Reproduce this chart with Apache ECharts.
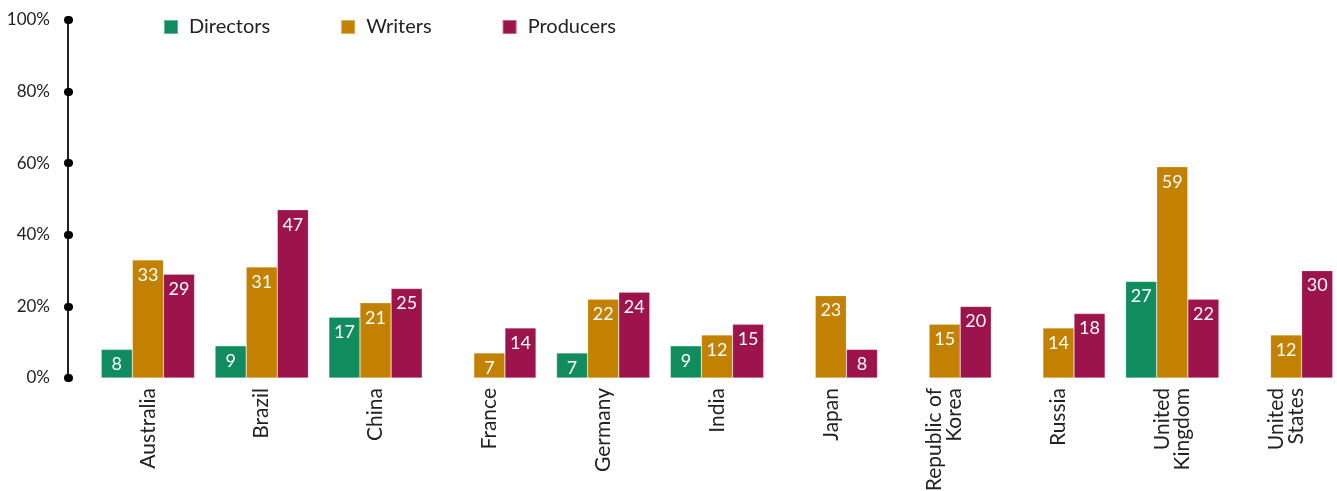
<!DOCTYPE html>
<html>
<head>
<meta charset="utf-8">
<script src="https://cdn.jsdelivr.net/npm/echarts@6/dist/echarts.min.js"></script>
<style>
html, body { margin: 0; padding: 0; background: #fff; }
#main { width: 1337px; height: 491px; }
</style>
</head>
<body>
<div id="main"></div>
<script>
// categories and values (percent)
var countries = ['Australia', 'Brazil', 'China', 'France', 'Germany', 'India', 'Japan',
    'Republic of\nKorea', 'Russia', 'United\nKingdom', 'United\nStates'];
var directors = [8, 9, 17, null, 7, 9, null, null, null, 27, null];
var writers = [33, 31, 21, 7, 22, 12, 23, 15, 14, 59, 12];
var producers = [29, 47, 25, 14, 24, 15, 8, 20, 18, 22, 30];
var yTicks = [0, 20, 40, 60, 80, 100];

var font = 'Lato';

function barSeries(name, data, color) {
    return {
        name: name,
        type: 'bar',
        data: data,
        barGap: 0,
        barCategoryGap: '18%',
        itemStyle: { color: color, borderColor: 'rgba(255,255,255,0.35)', borderWidth: 0.6 },
        label: {
            show: true,
            position: 'insideTop',
            distance: 6,
            color: '#fff',
            fontFamily: font,
            fontSize: 18
        }
    };
}

var chart = echarts.init(document.getElementById('main'));
var option = {
    animation: false,
    legend: {
        left: 158,
        top: 12,
        itemWidth: 14,
        itemHeight: 14,
        itemGap: 70,
        icon: 'rect',
        textStyle: { fontFamily: font, fontSize: 20, color: '#222', padding: [0, 0, 0, 6] },
        data: ['Directors', 'Writers', 'Producers']
    },
    grid: { left: 91, right: -6, top: 20, bottom: 113, containLabel: false, outerBoundsMode: 'none' },
    xAxis: {
        type: 'category',
        data: countries,
        axisLine: { show: false },
        axisTick: { show: false },
        axisLabel: {
            rotate: 90,
            margin: 10,
            interval: 0,
            fontFamily: font,
            fontSize: 21,
            lineHeight: 20,
            color: '#222'
        }
    },
    yAxis: {
        type: 'value',
        min: yTicks[0],
        max: yTicks[yTicks.length - 1],
        interval: 20,
        offset: 23,
        splitLine: { show: false },
        axisLine: { show: true, lineStyle: { color: '#222', width: 2 } },
        axisTick: { show: true, inside: true, length: 1, lineStyle: { color: '#000', width: 8, cap: 'round' } },
        axisLabel: {
            margin: 18,
            fontFamily: font,
            fontSize: 17,
            color: '#222',
            formatter: '{value}%'
        }
    },
    series: [
        barSeries('Directors', directors, '#118c5f'),
        barSeries('Writers', writers, '#c28100'),
        barSeries('Producers', producers, '#9d134b')
    ]
};
chart.setOption(option);
</script>
</body>
</html>
